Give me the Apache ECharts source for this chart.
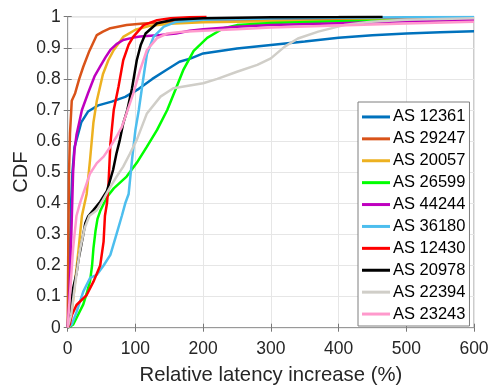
<!DOCTYPE html>
<html>
<head>
<meta charset="utf-8">
<script src="https://cdn.jsdelivr.net/npm/echarts@6/dist/echarts.min.js"></script>
<style>html,body{margin:0;padding:0;background:#fff}#c{width:491px;height:385px}</style>
</head>
<body>
<div id="c"></div>
<script>
// Series names (legend order)
var seriesNames = ['AS 12361','AS 29247','AS 20057','AS 26599','AS 44244','AS 36180','AS 12430','AS 20978','AS 22394','AS 23243'];
var seriesColors = ['#0072BD','#D95319','#EDB120','#00FF00','#BF00BF','#4DBEEE','#FF0000','#000000','#D0CEC8','#FF99CC'];

// CDF points [relative latency increase (%), CDF]
var as12361 = [[0,0],[2,0.1],[3,0.2],[4,0.3],[5,0.4],[7,0.5],[10,0.58],[15,0.62],[20,0.66],[30,0.695],[45,0.715],[65,0.727],[85,0.742],[105,0.768],[125,0.8],[145,0.828],[165,0.855],[182,0.866],[200,0.882],[250,0.898],[300,0.909],[350,0.92],[400,0.932],[450,0.94],[500,0.946],[550,0.95],[600,0.953]];
var as29247 = [[0,0],[1,0.3],[2,0.5],[3.4,0.625],[6,0.73],[11,0.754],[17,0.8],[23,0.839],[32,0.89],[43,0.941],[52,0.952],[63,0.963],[87,0.973],[112,0.978],[150,0.982],[200,0.985],[300,0.99],[400,0.992],[600,0.996]];
var as20057 = [[0,0],[3,0.02],[6,0.05],[11,0.15],[16,0.25],[21,0.36],[28,0.43],[33,0.54],[38,0.66],[43,0.73],[52,0.815],[60,0.86],[68,0.893],[82,0.935],[100,0.958],[120,0.97],[150,0.977],[200,0.982],[300,0.985],[400,0.987],[500,0.989],[600,0.99]];
var as26599 = [[0,0],[8,0.01],[15,0.04],[23,0.075],[28,0.11],[33,0.15],[36,0.2],[38,0.255],[41,0.31],[44,0.35],[48,0.375],[58,0.42],[68,0.448],[87,0.486],[102,0.53],[117,0.582],[132,0.636],[147,0.7],[160,0.77],[171,0.83],[186,0.89],[206,0.932],[230,0.963],[250,0.973],[300,0.98],[400,0.985],[500,0.988],[600,0.99]];
var as44244 = [[0,0],[2,0.07],[4,0.2],[6,0.35],[8,0.5],[10,0.57],[13,0.62],[17,0.66],[21,0.7],[30,0.754],[40,0.81],[48,0.84],[56,0.87],[63,0.893],[72,0.912],[82,0.925],[95,0.932],[107,0.936],[137,0.941],[160,0.946],[180,0.955],[200,0.96],[250,0.968],[300,0.973],[400,0.979],[500,0.985],[600,0.99]];
var as36180 = [[0,0],[6,0.01],[13,0.05],[23,0.116],[33,0.16],[43,0.17],[53,0.2],[63,0.234],[72,0.3],[80,0.36],[85,0.4],[90,0.43],[95,0.54],[100,0.636],[105,0.7],[112,0.807],[117,0.88],[127,0.936],[142,0.968],[161,0.984],[200,0.99],[300,0.994],[400,0.997],[500,0.998],[600,0.999]];
var as12430 = [[0,0],[3,0.01],[6,0.04],[13,0.073],[28,0.105],[38,0.148],[48,0.2],[53,0.277],[55,0.36],[58,0.4],[60,0.45],[63,0.59],[68,0.7],[75,0.775],[82,0.86],[90,0.91],[97,0.936],[112,0.973],[132,0.989],[152,0.995],[180,0.998],[205,1.0]];
var as20978 = [[0,0],[3,0.04],[8,0.127],[13,0.175],[16,0.22],[23,0.3],[26,0.336],[30,0.357],[38,0.378],[48,0.405],[58,0.44],[67,0.507],[72,0.56],[77,0.604],[82,0.657],[88,0.7],[95,0.77],[102,0.86],[108,0.91],[115,0.946],[132,0.979],[156,0.99],[200,0.995],[300,0.998],[400,0.999],[465,1.0]];
var as22394 = [[0,0],[5,0.04],[11,0.14],[18,0.25],[25,0.32],[32,0.36],[43,0.378],[52,0.41],[63,0.453],[72,0.485],[82,0.518],[92,0.56],[102,0.604],[117,0.689],[137,0.743],[156,0.77],[200,0.786],[221,0.8],[250,0.823],[280,0.845],[300,0.866],[320,0.903],[340,0.93],[370,0.952],[408,0.973],[448,0.984],[500,0.99],[550,0.993],[600,0.995]];
var as23243 = [[0,0],[3,0.095],[8,0.255],[13,0.36],[18,0.4],[23,0.432],[33,0.496],[43,0.529],[53,0.55],[63,0.582],[72,0.614],[80,0.646],[87,0.69],[97,0.754],[107,0.829],[117,0.893],[132,0.931],[147,0.946],[170,0.952],[200,0.955],[250,0.96],[300,0.965],[400,0.972],[450,0.975],[500,0.978],[600,0.984]];

var xTicks = {min: 0, max: 600, interval: 100};
var yTicks = {min: 0, max: 1, interval: 0.1};

var allData = [as12361, as29247, as20057, as26599, as44244, as36180, as12430, as20978, as22394, as23243];

var FONT = '"Liberation Sans", Arial, Helvetica, sans-serif';
var chart = echarts.init(document.getElementById('c'), null, {renderer: 'canvas'});

var series = allData.map(function (d, i) {
  return {
    name: seriesNames[i], type: 'line', data: d, showSymbol: false, symbol: 'none',
    lineStyle: {color: seriesColors[i], width: 2.5}, itemStyle: {color: seriesColors[i]},
    smooth: false, animation: false, z: 2 + i
  };
});

var axisTxt = {color: '#262626', fontFamily: FONT, fontSize: 17.5};
chart.setOption({
  animation: false,
  grid: {left: 67.7, right: 17, top: 16.7, bottom: 57.3, containLabel: false, outerBoundsMode: 'none',
         show: true, borderColor: '#999', borderWidth: 1},
  xAxis: [{
    type: 'value', min: xTicks.min, max: xTicks.max, interval: xTicks.interval, position: 'bottom',
    name: 'Relative latency increase (%)', nameLocation: 'middle', nameGap: 37.5, nameMoveOverlap: false,
    nameTextStyle: {color: '#262626', fontFamily: FONT, fontSize: 20.3},
    axisLine: {show: true, lineStyle: {color: '#999', width: 1}},
    axisTick: {show: true, inside: true, length: 4, lineStyle: {color: '#777'}},
    axisLabel: Object.assign({margin: 12}, axisTxt),
    splitLine: {show: true, lineStyle: {color: '#E6E6E6', width: 1}}
  }, {
    type: 'value', min: xTicks.min, max: xTicks.max, interval: xTicks.interval, position: 'top',
    axisLine: {show: false}, axisTick: {show: true, inside: true, length: 4, lineStyle: {color: '#777'}},
    axisLabel: {show: false}, splitLine: {show: false}
  }],
  yAxis: [{
    type: 'value', min: yTicks.min, max: yTicks.max, interval: yTicks.interval, position: 'left',
    name: 'CDF', nameLocation: 'middle', nameGap: 36.5, nameMoveOverlap: false,
    nameTextStyle: {color: '#262626', fontFamily: FONT, fontSize: 20},
    axisLine: {show: true, lineStyle: {color: '#999', width: 1}},
    axisTick: {show: true, inside: true, length: 4, lineStyle: {color: '#777'}},
    axisLabel: Object.assign({margin: 7}, axisTxt),
    splitLine: {show: true, lineStyle: {color: '#E6E6E6', width: 1}}
  }, {
    type: 'value', min: yTicks.min, max: yTicks.max, interval: yTicks.interval, position: 'right',
    axisLine: {show: false}, axisTick: {show: true, inside: true, length: 4, lineStyle: {color: '#777'}},
    axisLabel: {show: false}, splitLine: {show: false}
  }],
  legend: {
    orient: 'vertical', left: 358, top: 102, itemGap: 0,
    padding: [4, 4, 1, 4], backgroundColor: '#fff', borderColor: '#7f7f7f', borderWidth: 1,
    itemWidth: 28, itemHeight: 3, icon: 'rect', data: seriesNames,
    textStyle: {color: '#000', fontFamily: FONT, fontSize: 16.5, lineHeight: 21.9, padding: [0, 0, 0, -2]},
    z: 20
  },
  series: series
});
</script>
</body>
</html>
